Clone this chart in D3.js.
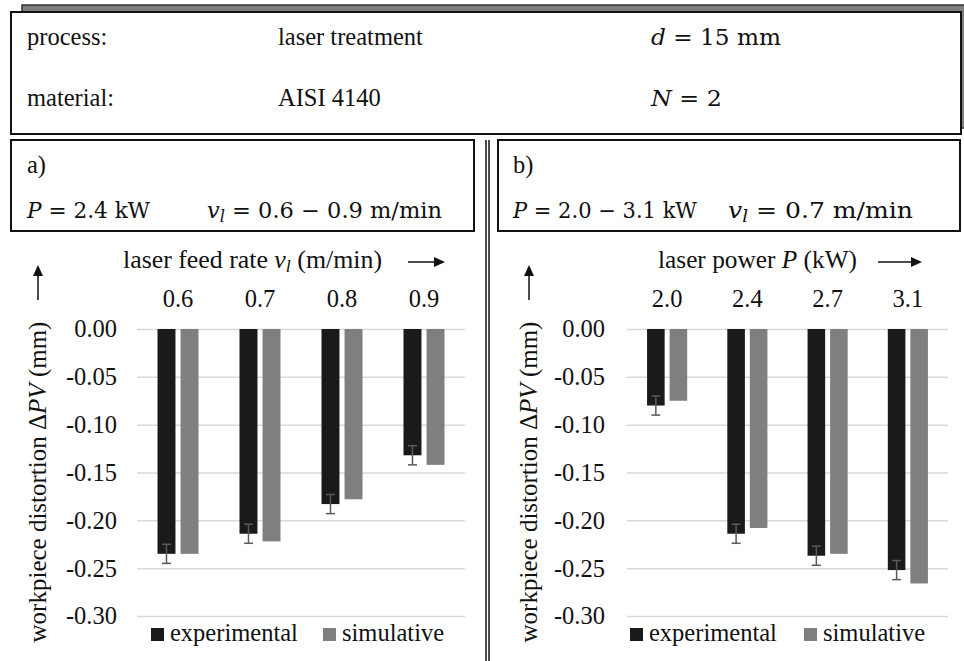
<!DOCTYPE html>
<html>
<head>
<meta charset="utf-8">
<script src="https://cdn.jsdelivr.net/npm/d3@7"></script>
<style>
  body { margin: 0; background: #fff; }
  svg { display: block; font-family: "Liberation Serif", "Times New Roman", serif; }
</style>
</head>
<body>
<svg width="964" height="661"></svg>
<script>
var categoriesA = ['0.6', '0.7', '0.8', '0.9'];
var experimentalA = [-0.235, -0.214, -0.183, -0.132];
var simulativeA = [-0.235, -0.222, -0.178, -0.142];
var errorA = [0.010, 0.010, 0.010, 0.010];

var categoriesB = ['2.0', '2.4', '2.7', '3.1'];
var experimentalB = [-0.080, -0.214, -0.237, -0.252];
var simulativeB = [-0.075, -0.208, -0.235, -0.266];
var errorB = [0.010, 0.010, 0.010, 0.010];

var yTicks = [0, -0.05, -0.10, -0.15, -0.20, -0.25, -0.30];
var seriesNames = ['experimental', 'simulative'];
var seriesColors = ['#1a1a1a', '#7f7f7f'];

var fs = 24.5; // main text size

var svg = d3.select('svg');
svg.append('rect').attr('width', 964).attr('height', 661).attr('fill', '#fff');

// header box with the grey shadow frame behind it
svg.append('rect').attr('x', 22).attr('y', 5).attr('width', 960).attr('height', 123)
  .attr('fill', '#7f7f7f').attr('stroke', '#333').attr('stroke-width', 1.5);
svg.append('rect').attr('x', 11).attr('y', 12).attr('width', 950).attr('height', 122)
  .attr('fill', '#fff').attr('stroke', '#111').attr('stroke-width', 2);

function addText(x, y, str, size) {
  return svg.append('text').attr('x', x).attr('y', y)
    .attr('font-size', size || fs).attr('fill', '#111').text(str);
}
addText(27, 45, 'process:');
addText(278, 45, 'laser treatment');
addText(27, 106, 'material:');
addText(278, 106, 'AISI 4140');

// math style lines: pieces of [text, italic, subscript]
function mathText(x, y, parts, len) {
  var t = svg.append('text').attr('x', x).attr('y', y)
    .attr('font-size', 22).attr('fill', '#111')
    .attr('font-family', '"DejaVu Serif", serif');
  parts.forEach(function(p) {
    var s = t.append('tspan').text(p[0]);
    if (p[1]) s.attr('font-style', 'italic');
    if (p[2]) s.attr('baseline-shift', '-25%').attr('font-size', 16);
  });
  if (len) t.attr('textLength', len).attr('lengthAdjust', 'spacingAndGlyphs');
  return t;
}
mathText(651, 45, [['d', true], [' = 15 mm']], 130);
mathText(651, 106, [['N', true], [' = 2']], 71);

// sub panel boxes
svg.append('rect').attr('x', 11).attr('y', 140).attr('width', 463).attr('height', 91)
  .attr('fill', 'none').attr('stroke', '#111').attr('stroke-width', 2);
svg.append('rect').attr('x', 498).attr('y', 140).attr('width', 462).attr('height', 91)
  .attr('fill', 'none').attr('stroke', '#111').attr('stroke-width', 2);
svg.append('line').attr('x1', 486).attr('x2', 486).attr('y1', 140).attr('y2', 661)
  .attr('stroke', '#111').attr('stroke-width', 1.5);
svg.append('line').attr('x1', 489).attr('x2', 489).attr('y1', 140).attr('y2', 661)
  .attr('stroke', '#111').attr('stroke-width', 1.5);

addText(27, 173, 'a)');
mathText(27, 218, [['P', true], [' = 2.4 kW']], 123);
mathText(207, 218, [['v', true], ['l', true, true], [' = 0.6 \u2212 0.9 m/min']], 235);
addText(513, 173, 'b)');
mathText(513, 218, [['P', true], [' = 2.0 \u2212 3.1 kW']], 184);
mathText(728, 218, [['v', true], ['l', true, true], [' = 0.7 m/min']], 185);

function arrowRight(x1, x2, y) {
  svg.append('line').attr('x1', x1).attr('x2', x2 - 8).attr('y1', y).attr('y2', y)
    .attr('stroke', '#111').attr('stroke-width', 1.5);
  svg.append('path').attr('d', 'M' + x2 + ',' + y + 'L' + (x2 - 11) + ',' + (y - 5) + 'L' + (x2 - 11) + ',' + (y + 5) + 'Z')
    .attr('fill', '#111');
}
function arrowUp(x, y1, y2) {
  svg.append('line').attr('x1', x).attr('x2', x).attr('y1', y1).attr('y2', y2 + 8)
    .attr('stroke', '#111').attr('stroke-width', 1.5);
  svg.append('path').attr('d', 'M' + x + ',' + y2 + 'L' + (x - 5) + ',' + (y2 + 11) + 'L' + (x + 5) + ',' + (y2 + 11) + 'Z')
    .attr('fill', '#111');
}

function drawPanel(cfg) {
  var y = d3.scaleLinear().domain([-0.30, 0]).range([cfg.bottom, cfg.top]);
  var x0 = d3.scaleBand().domain(cfg.categories).range([cfg.left, cfg.right])
    .paddingInner(0.5).paddingOuter(0.25);
  var x1 = d3.scaleBand().domain(seriesNames).range([0, x0.bandwidth()]).paddingInner(0.22);

  // gridlines
  svg.append('g').attr('transform', 'translate(' + cfg.left + ',0)')
    .call(d3.axisRight(y).tickValues(yTicks).tickSize(cfg.right - cfg.left).tickFormat(''))
    .call(function(g) {
      g.select('.domain').remove();
      g.selectAll('line').attr('stroke', '#d9d9d9').attr('stroke-width', 1.5);
    });

  // y tick labels
  svg.append('g').attr('transform', 'translate(' + cfg.left + ',0)')
    .call(d3.axisLeft(y).tickValues(yTicks).tickSize(0).tickPadding(cfg.tickPad)
      .tickFormat(function(d) { return d.toFixed(2); }))
    .call(function(g) {
      g.select('.domain').remove();
      g.selectAll('text').attr('font-size', fs).attr('fill', '#111')
        .attr('font-family', '"Liberation Serif", serif');
    });

  // category labels on top
  svg.append('g').attr('transform', 'translate(0,' + cfg.top + ')')
    .call(d3.axisTop(x0).tickSize(0).tickPadding(22))
    .call(function(g) {
      g.select('.domain').remove();
      g.selectAll('text').attr('font-size', fs).attr('fill', '#111')
        .attr('font-family', '"Liberation Serif", serif');
    });

  var rows = cfg.categories.map(function(c, i) {
    return { cat: c, vals: [cfg.experimental[i], cfg.simulative[i]], err: cfg.error[i] };
  });

  var groups = svg.append('g').selectAll('g').data(rows).enter().append('g')
    .attr('transform', function(d) { return 'translate(' + x0(d.cat) + ',0)'; });

  groups.selectAll('rect').data(function(d) {
    return d.vals.map(function(v, k) { return { name: seriesNames[k], v: v, k: k }; });
  }).enter().append('rect')
    .attr('x', function(d) { return x1(d.name); })
    .attr('width', x1.bandwidth())
    .attr('y', y(0))
    .attr('height', function(d) { return y(d.v) - y(0); })
    .attr('fill', function(d) { return seriesColors[d.k]; });

  // error bars on experimental
  groups.each(function(d) {
    var g = d3.select(this);
    var cx = x1('experimental') + x1.bandwidth() / 2;
    var yt = y(d.vals[0] + d.err), yb = y(d.vals[0] - d.err);
    g.append('line').attr('x1', cx).attr('x2', cx).attr('y1', yt).attr('y2', yb)
      .attr('stroke', '#595959').attr('stroke-width', 1.5);
    [yt, yb].forEach(function(yy) {
      g.append('line').attr('x1', cx - 4.5).attr('x2', cx + 4.5).attr('y1', yy).attr('y2', yy)
        .attr('stroke', '#595959').attr('stroke-width', 1.5);
    });
  });

  // axis title on top
  var t = svg.append('text').attr('x', cfg.titleX).attr('y', 268)
    .attr('font-size', fs).attr('fill', '#111');
  cfg.title.forEach(function(p) {
    var s = t.append('tspan').text(p[0]);
    if (p[1]) s.attr('font-style', 'italic');
    if (p[2]) s.attr('baseline-shift', '-25%').attr('font-size', 17);
  });
  t.attr('textLength', cfg.titleLen).attr('lengthAdjust', 'spacingAndGlyphs');
  arrowRight(cfg.arrowX1, cfg.arrowX2, 262);
  arrowUp(cfg.upX, 300, 265);

  // rotated y title
  var yt = svg.append('text')
    .attr('transform', 'translate(' + (cfg.upX + 8) + ',482) rotate(-90)')
    .attr('text-anchor', 'middle').attr('font-size', 25).attr('fill', '#111');
  yt.append('tspan').text('workpiece distortion \u0394');
  yt.append('tspan').text('PV').attr('font-style', 'italic');
  yt.append('tspan').text(' (mm)');

  // legend
  var lg = svg.append('g').attr('transform', 'translate(0,' + (cfg.bottom + 12) + ')');
  seriesNames.forEach(function(name, k) {
    lg.append('rect').attr('x', cfg.legendX[k]).attr('y', 0).attr('width', 13).attr('height', 13)
      .attr('fill', seriesColors[k]);
    lg.append('text').attr('x', cfg.legendX[k] + 19).attr('y', 13)
      .attr('font-size', fs).attr('fill', '#111').text(name);
  });
}

drawPanel({
  categories: categoriesA, experimental: experimentalA, simulative: simulativeA, error: errorA,
  left: 137, right: 465, top: 329, bottom: 616, tickPad: 20,
  title: [['laser feed rate '], ['v', true], ['l', true, true], [' (m/min)']],
  titleX: 123, titleLen: 259, arrowX1: 408, arrowX2: 445, upX: 38,
  legendX: [151, 323]
});

drawPanel({
  categories: categoriesB, experimental: experimentalB, simulative: simulativeB, error: errorB,
  left: 627, right: 948, top: 329, bottom: 616, tickPad: 22,
  title: [['laser power '], ['P', true], [' (kW)']],
  titleX: 658, titleLen: 199, arrowX1: 878, arrowX2: 922, upX: 529,
  legendX: [630, 804]
});
</script>
</body>
</html>
